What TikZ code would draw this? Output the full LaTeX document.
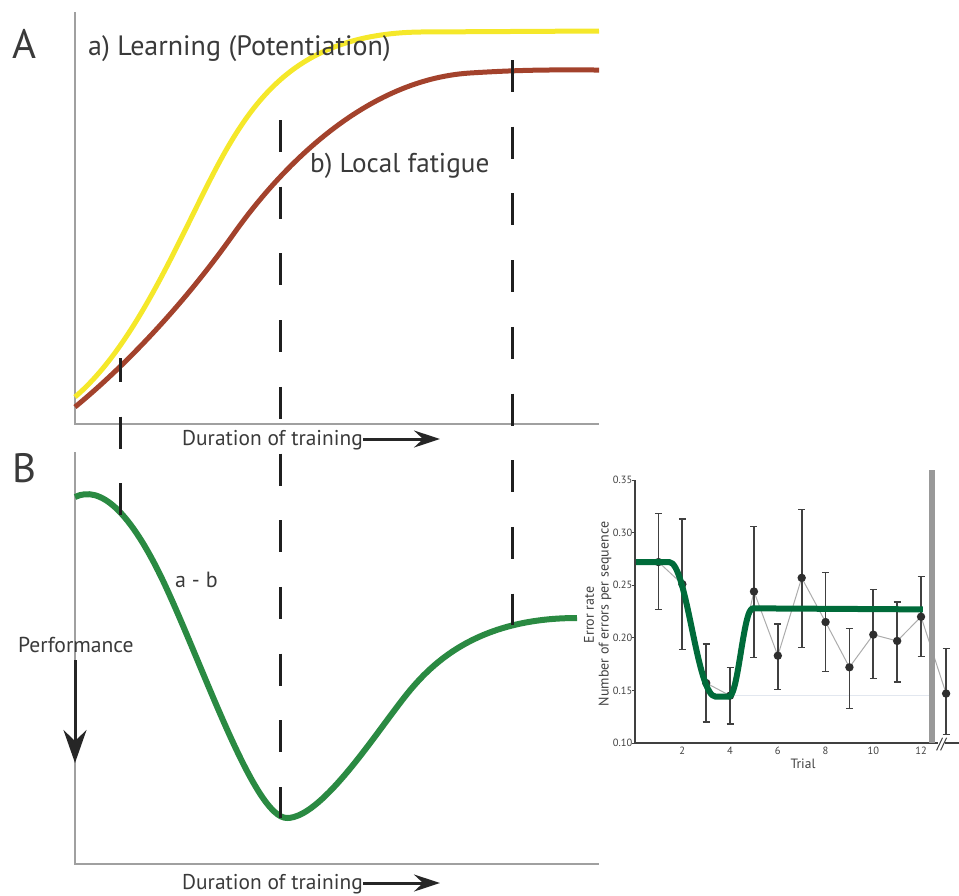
\documentclass[tikz,border=0pt]{standalone}
\usepackage{fontspec}
\setmainfont{PT Sans}
\usetikzlibrary{arrows.meta}
\definecolor{ylw}{HTML}{F5E82A}
\definecolor{brn}{HTML}{A3422C}
\definecolor{grn}{HTML}{2A8A42}
\definecolor{dgrn}{HTML}{006B3A}
\definecolor{txt}{HTML}{3A3A3A}
\definecolor{axg}{HTML}{A0A0A0}
\definecolor{inax}{HTML}{404040}
\definecolor{faint}{HTML}{E2E7EF}
\begin{document}
\begin{tikzpicture}[x=1pt,y=-1pt,
  lbl/.style={text=txt, inner sep=0pt},
  axisline/.style={draw=axg, line width=1.5pt},
  curveline/.style={line width=5pt, line join=round},
  dashline/.style={line width=3pt, draw=black!88, dash pattern=on 32pt off 34.7pt},
  bigarrow/.style={draw=black!85, line width=3pt, -{Stealth[length=26pt,width=17pt,inset=9pt]}},
  perfarrow/.style={draw=black!85, line width=3pt, -{Stealth[length=33pt,width=23pt,inset=11pt]}},
  inaxis/.style={draw=inax, line width=1.8pt},
  ebar/.style={draw=inax, line width=1.8pt},
  inlbl/.style={text=inax, inner sep=0pt},
]
\useasboundingbox (0,0) rectangle (959,895);

% ---------- Panel A ----------
\node[lbl, font=\fontsize{41}{44}\selectfont] (labA) at (24,44) {A};
\draw[axisline] (75,12) -- (75,424) -- (599,424);

\draw[curveline, ylw] (75,397) .. controls (130,350) and (170,260) .. (205,190)
   .. controls (248,104) and (292,34) .. (420,32) -- (599,31);
\draw[curveline, brn] (75,407) .. controls (120,370) and (180,310) .. (235,232)
   .. controls (275,176) and (360,80) .. (470,73)
   .. controls (530,69.2) and (560,70) .. (599,70);

\node[lbl, anchor=base west, font=\fontsize{28}{32}\selectfont] (learn) at (88,55) {a) Learning (Potentiation)};
\node[lbl, anchor=base west, font=\fontsize{27.2}{32}\selectfont] (fatig) at (310,172) {b) Local fatigue};

\node[lbl, anchor=base west, font=\fontsize{21.4}{24}\selectfont] (durA) at (182,445) {Duration of training};
\coordinate (arrA1) at (363,439);
\coordinate (arrA2) at (440,439);
\draw[bigarrow] (arrA1) -- (arrA2);

% ---------- Panel B ----------
\node[lbl, font=\fontsize{41}{44}\selectfont] (labB) at (24,468) {B};
\draw[axisline] (75,452) -- (75,864) -- (599,864);

\draw[curveline, grn, line width=6pt] (75,497) .. controls (100,485) and (130,510) .. (165,585)
   .. controls (205,671) and (255,818) .. (287,818)
   .. controls (320,818) and (370,742) .. (400,703)
   .. controls (425,670) and (470,618) .. (577,618);

\node[lbl, anchor=base west, font=\fontsize{22}{26}\selectfont] (amb) at (175,587) {a - b};
\node[lbl, anchor=base west, font=\fontsize{21.6}{24}\selectfont] (perf) at (18,652) {Performance};
\coordinate (pa1) at (75,660);
\coordinate (pa2) at (75,763);
\draw[perfarrow] (pa1) -- (pa2);

\node[lbl, anchor=base west, font=\fontsize{21.4}{24}\selectfont] (durB) at (182,889) {Duration of training};
\coordinate (arrB1) at (363,883);
\coordinate (arrB2) at (440,883);
\draw[bigarrow] (arrB1) -- (arrB2);

% ---------- dashed markers ----------
\coordinate (d1a) at (120,358); \coordinate (d1b) at (120,516);
\coordinate (d2a) at (280,120); \coordinate (d2b) at (280,818);
\coordinate (d3a) at (512,60);  \coordinate (d3b) at (512,625);
\draw[dashline, dash phase=8pt] (d1a) -- (d1b);
\draw[dashline] (d2a) -- (d2b);
\draw[dashline] (d3a) -- (d3b);

% ---------- Inset ----------
\node[inlbl, rotate=90, font=\fontsize{14}{16}\selectfont] (errrate) at (589,615) {Error rate};
\node[inlbl, rotate=90, font=\fontsize{14}{16}\selectfont] (nerr) at (605,614) {Number of errors per sequence};
\node[inlbl, font=\fontsize{13.5}{15}\selectfont] (trial) at (803,764) {Trial};

\begin{scope}[shift={(634.6pt,-848.2pt)}, x=23.87pt, y=1052pt]
  \draw[draw=faint, line width=1pt] (4,0.145) -- (12.4,0.145);
  \draw[gray!65, line width=1pt] (1,0.272) -- (2,0.251) -- (3,0.157) -- (4,0.145) -- (5,0.244) -- (6,0.183) -- (7,0.257) -- (8,0.215) -- (9,0.172) -- (10,0.203) -- (11,0.197) -- (12,0.220) -- (13.05,0.147);
  \foreach \t/\m/\lo/\hi in {1/0.272/0.227/0.318, 2/0.251/0.189/0.313, 3/0.157/0.120/0.194, 4/0.145/0.118/0.172, 5/0.244/0.181/0.306, 6/0.183/0.151/0.213, 7/0.257/0.191/0.322, 8/0.215/0.168/0.262, 9/0.172/0.133/0.209, 10/0.203/0.161/0.246, 11/0.197/0.158/0.234, 12/0.220/0.182/0.258, 13.05/0.147/0.108/0.190}{
    \draw[ebar] (\t,\lo) -- (\t,\hi);
    \draw[ebar, line width=1.3pt] (\t,\lo) ++(-3.5pt,0) -- ++(7pt,0);
    \draw[ebar, line width=1.3pt] (\t,\hi) ++(-3.5pt,0) -- ++(7pt,0);
    \fill[black!82] (\t,\m) circle (4.2pt);
  }
  \draw[dgrn, line width=6pt, line join=round] (0,0.272) -- (1.45,0.272)
     .. controls (2.2,0.272) and (2.6,0.144) .. (3.4,0.144) -- (3.95,0.144)
     .. controls (4.35,0.144) and (4.55,0.228) .. (4.95,0.228) -- (12.08,0.227);
  % axes
  \draw[inaxis] (0,0.35) -- (0,0.1) -- (12.7,0.1);
  \draw[inaxis] (13.0,0.1) -- (13.6,0.1);
  \draw[inax, line width=1pt] (12.65,0.093) -- (12.9,0.105);
  \draw[inax, line width=1pt] (12.82,0.093) -- (13.07,0.105);
  \fill[gray!80] (12.33,0.1) rectangle (12.585,0.3595);
  \foreach \v [count=\i] in {0.10,0.15,0.20,0.25,0.30,0.35}{
    \draw[inax, line width=0.8pt] (0,\v) -- ++(-2.5pt,0);
    \node[inlbl, anchor=east, font=\fontsize{10.5}{12}\selectfont] (yt\i) at ([xshift=-2pt]0,\v) {\v};
  }
  \foreach \t [count=\i] in {2,4,6,8,10,12}{
    \node[inlbl, anchor=north, font=\fontsize{10.5}{12}\selectfont] (xt\i) at ([yshift=-4pt]\t,0.1) {\t};
  }
\end{scope}
\end{tikzpicture}
\end{document}
